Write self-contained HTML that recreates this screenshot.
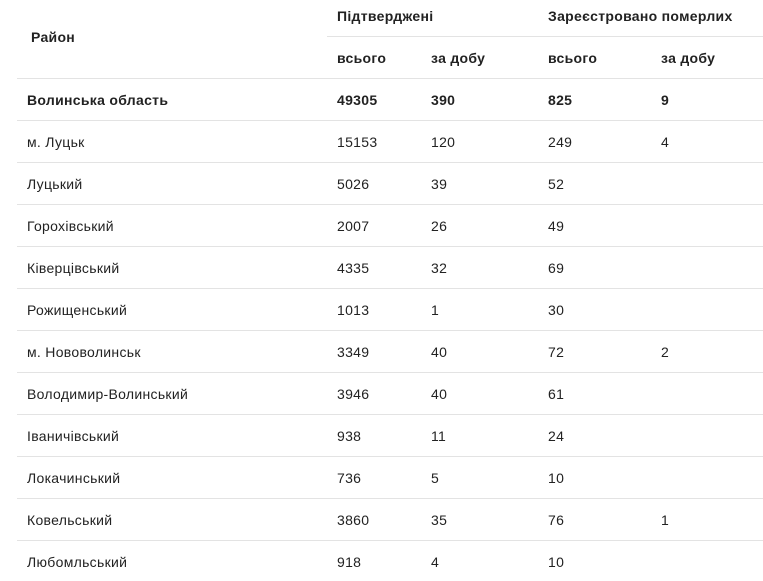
<!DOCTYPE html>
<html><head><meta charset="utf-8"><style>
body{margin:0;width:763px;height:581px;background:#fff;font-family:"Liberation Sans","DejaVu Sans",sans-serif;font-size:14px;color:#222;position:relative;overflow:hidden;letter-spacing:0.3px}
.t{position:absolute;line-height:16px;white-space:nowrap}
.b{font-weight:bold}
.l{position:absolute;height:1px;background:#e3e3e3;right:0}
</style></head><body>
<div class="t b" style="left:31px;top:29px">Район</div>
<div class="t b" style="left:337px;top:8px">Підтверджені</div>
<div class="t b" style="left:548px;top:8px">Зареєстровано померлих</div>
<div class="l" style="left:327px;top:36px"></div>
<div class="t b" style="left:337px;top:50px">всього</div>
<div class="t b" style="left:431px;top:50px">за добу</div>
<div class="t b" style="left:548px;top:50px">всього</div>
<div class="t b" style="left:661px;top:50px">за добу</div>
<div id="rows"></div>
<script>
var d=[["Волинська область","49305","390","825","9",1],["м. Луцьк","15153","120","249","4"],["Луцький","5026","39","52",""],["Горохівський","2007","26","49",""],["Ківерцівський","4335","32","69",""],["Рожищенський","1013","1","30",""],["м. Нововолинськ","3349","40","72","2"],["Володимир-Волинський","3946","40","61",""],["Іваничівський","938","11","24",""],["Локачинський","736","5","10",""],["Ковельський","3860","35","76","1"],["Любомльський","918","4","10",""]];
var h="",xs=[27,337,431,548,661];
d.forEach(function(r,i){var y=78+i*42;h+='<div class="l" style="left:17px;top:'+y+'px"></div>';
for(var j=0;j<5;j++)h+='<div class="t'+(r[5]?' b':'')+'" style="left:'+xs[j]+'px;top:'+(y+14)+'px">'+r[j]+'</div>';});
document.getElementById("rows").innerHTML=h;
</script>
</body></html>
